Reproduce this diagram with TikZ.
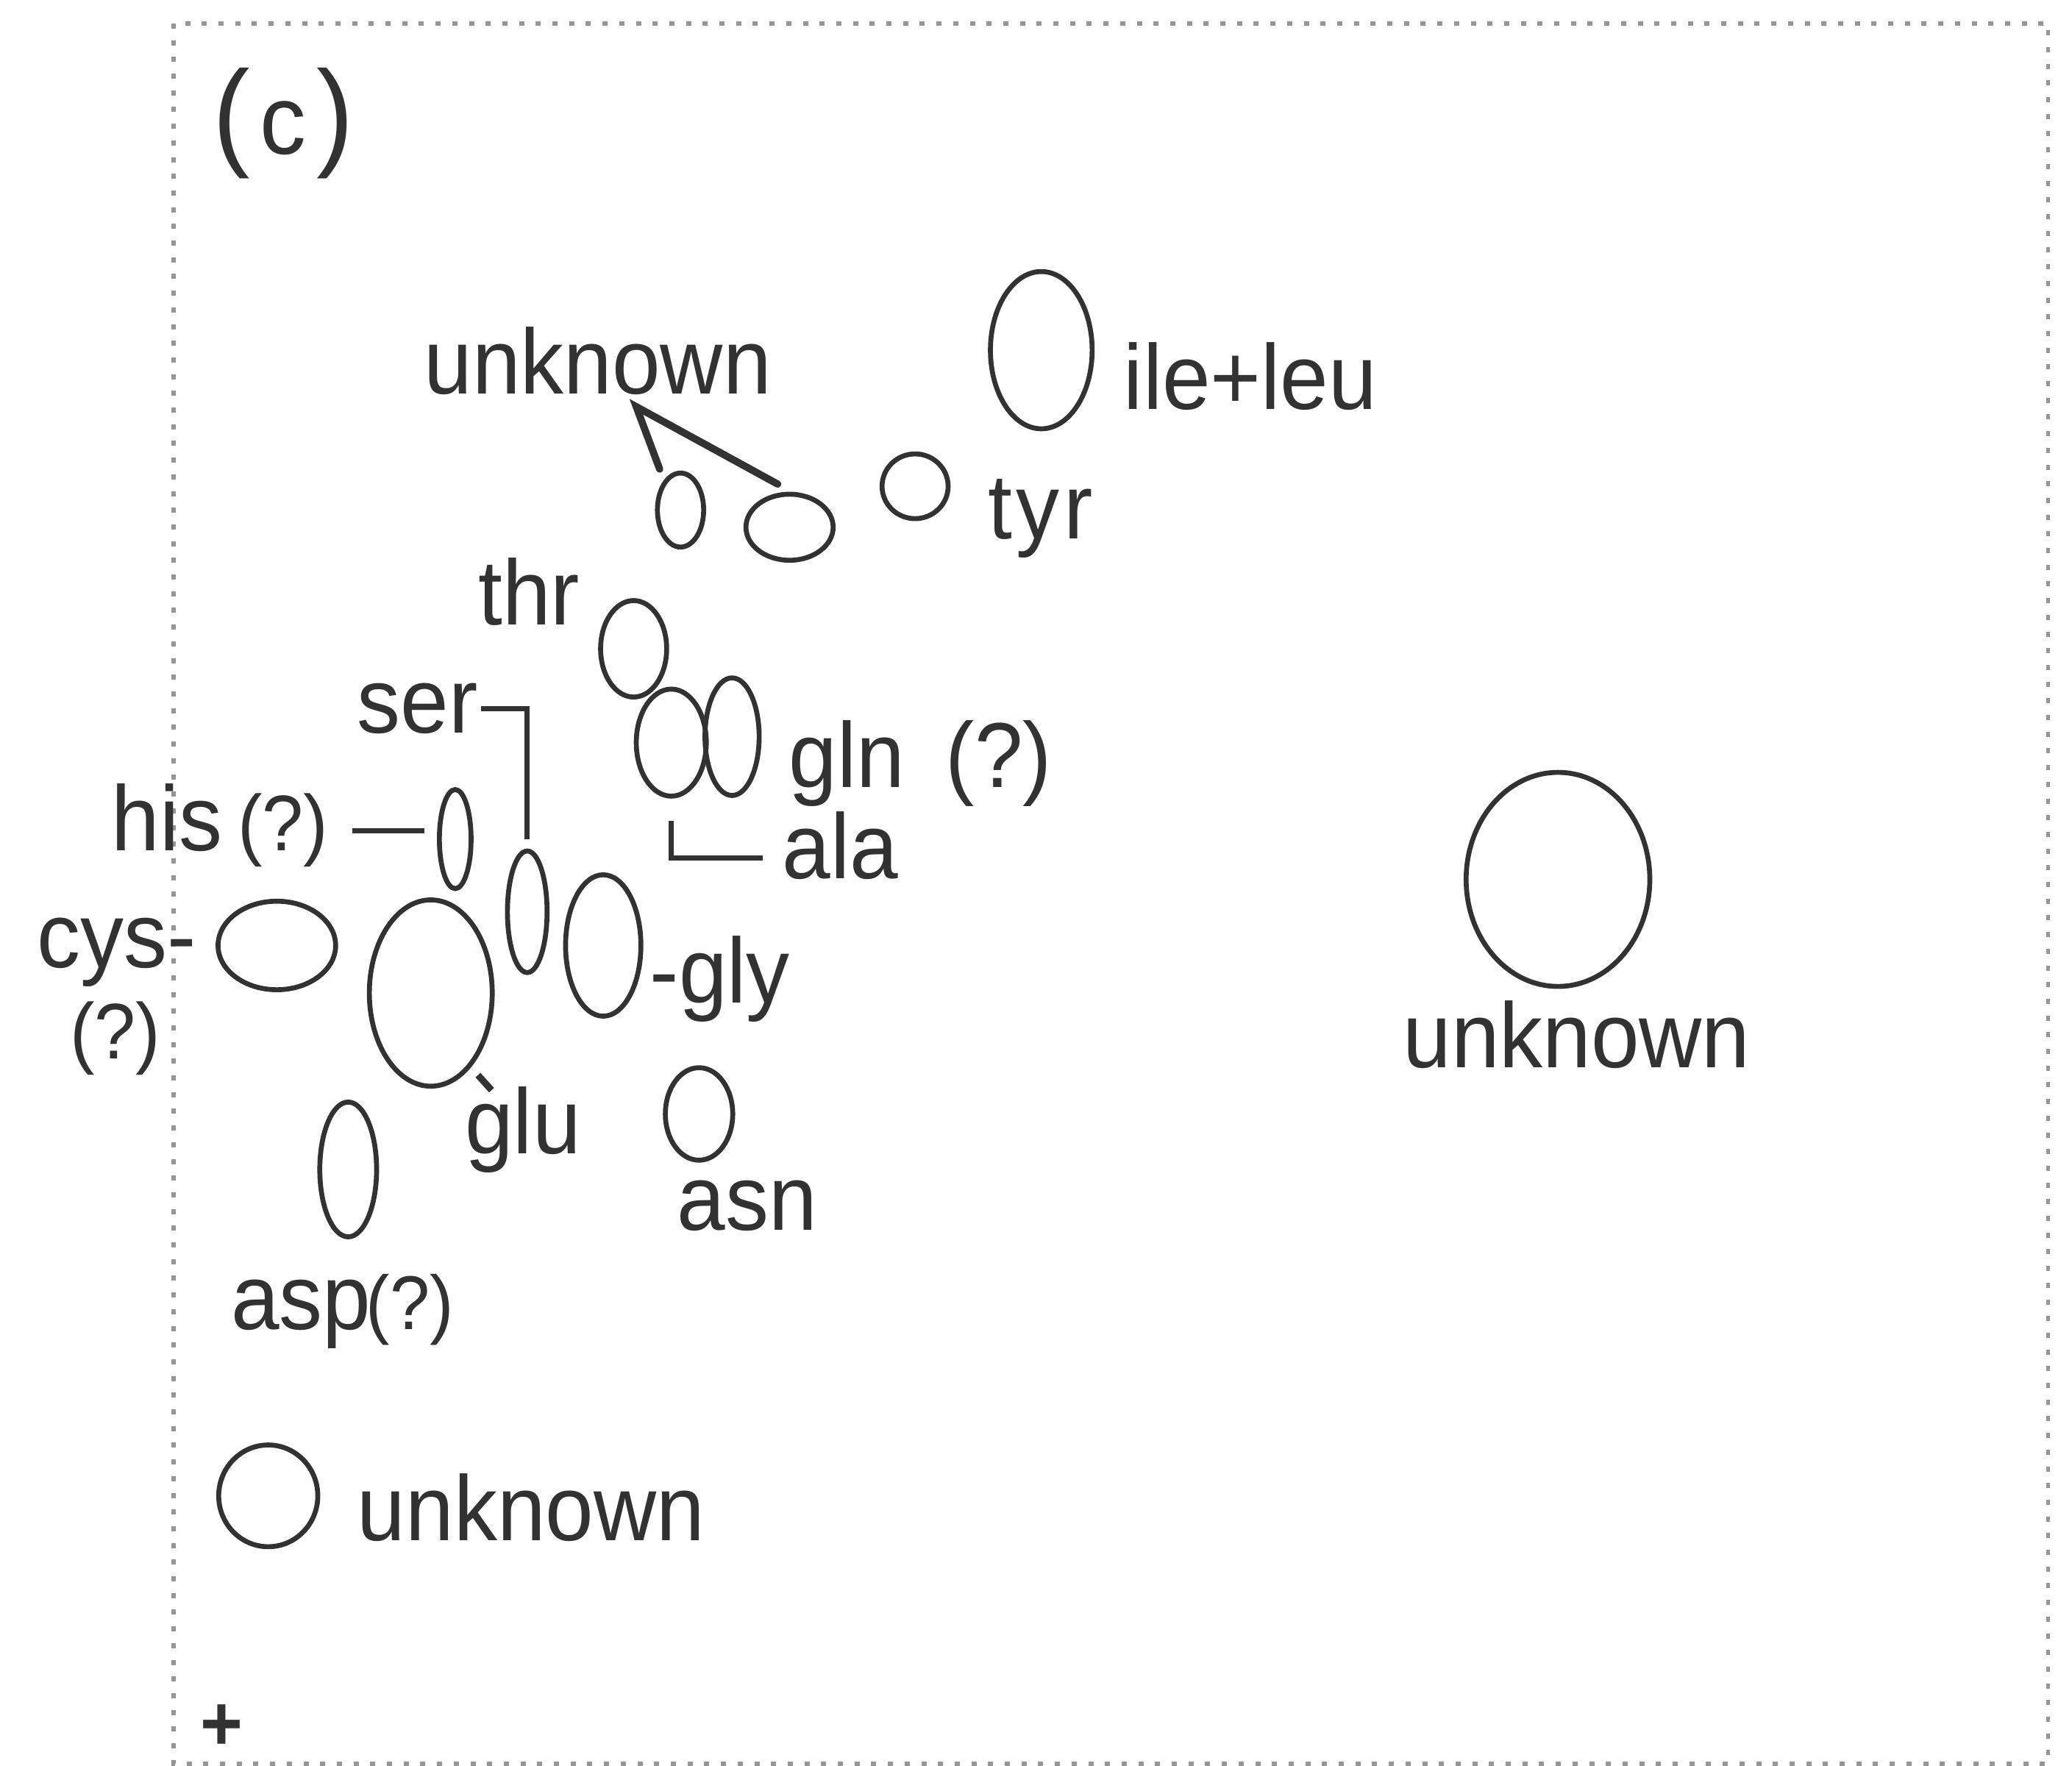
\documentclass[tikz,border=0pt]{standalone}
\usepackage{fontspec}
\setmainfont[FakeStretch=0.94]{Liberation Sans}
\usetikzlibrary{shapes.geometric}
\definecolor{ink}{RGB}{50,50,50}
\definecolor{framegray}{RGB}{150,150,150}
\newcommand{\mainsize}{\fontsize{35.7pt}{40pt}\selectfont}
\newcommand{\smallq}{\fontsize{30.5pt}{34pt}\selectfont}
\newcommand{\aspq}{\fontsize{29.5pt}{32pt}\selectfont}
\newcommand{\bigpar}{\fontsize{46pt}{50pt}\selectfont}
\begin{document}
\begin{tikzpicture}[x=0.17966mm, y=-0.17966mm,
  blob/.style 2 args={draw=ink, line width=1.9pt, ellipse, inner sep=0pt, outer sep=0pt,
    minimum width=#1*0.35932mm, minimum height=#2*0.35932mm},
  lbl/.style={inner sep=0pt, outer sep=0pt, anchor=base west, text=ink, font=\mainsize},
  conn/.style={draw=ink, line width=2pt},
  arrowln/.style={draw=ink, line width=2.8pt, line join=miter, miter limit=20},
  framestyle/.style={draw=framegray, line width=0.55mm, dash pattern=on 0.7mm off 1.57mm}]
\useasboundingbox (0,0) rectangle (1568,1336.4);
\fill[white] (0,0) rectangle (1568,1336.4);
% frame
\draw[framestyle] (131.4,17.8) rectangle (1550,1334.7);

% panel label
\node[lbl] (panel) at (161,116.5) {{\bigpar(}\kern4pt{\fontsize{38pt}{40pt}\selectfont c}\kern4pt{\bigpar)}};

% spots
\node[blob={38.5}{59.5}] (ile) at (788,265) {};
\node[blob={25}{24.5}] (tyr) at (692.5,368) {};
\node[blob={17.5}{28}] (ua) at (515,386) {};
\node[blob={33}{25}] (ub) at (597.5,399) {};
\node[blob={25}{36.5}] (thr) at (479.5,491) {};
\node[blob={26.5}{40.5}] (glnL) at (508,562) {};
\node[blob={20.5}{44.5}] (glnR) at (554,557.5) {};
\node[blob={12}{37.5}] (his) at (344.5,635) {};
\node[blob={15}{46}] (ser) at (399,690) {};
\node[blob={44.5}{33.5}] (cys) at (209.5,715.5) {};
\node[blob={46.5}{70.5}] (glu) at (326,751.5) {};
\node[blob={28.5}{53.5}] (gly) at (456.5,715.5) {};
\node[blob={25.5}{35}] (asn) at (529,843) {};
\node[blob={21.5}{51}] (asp) at (263.5,885) {};
\node[blob={37.5}{38.5}] (unkb) at (203,1132) {};
\node[blob={69.5}{81}] (unkr) at (1179,665.5) {};

% labels
\node[lbl] (tunka) at (321,298) {unknown};
\node[lbl] (tile) at (850.5,310) {ile+leu};
\node[lbl] (ttyr) at (748,408) {t\kern1.5pt y\kern1.5pt r};
\node[lbl] (tthr) at (362,473) {thr};
\node[lbl] (tser) at (270.5,554.7) {ser};
\node[lbl] (tgln) at (597,595.6) {gln\hspace{5.6mm}(?)};
\node[lbl] (tala) at (592,665) {ala};
\node[lbl] (this) at (84.5,644) {his};
\node[lbl, font=\smallq] (thisq) at (180,644) {(?)};
\node[lbl] (tcys) at (28,732) {cys-};
\node[lbl, font=\smallq] (tcysq) at (53,801) {(?)};
\node[lbl] (tgly) at (492,759) {-gly};
\node[lbl] (tglu) at (352,873) {glu};
\node[lbl] (tasn) at (512.6,931) {asn};
\node[lbl] (tasp) at (175,1006) {asp};
\node[lbl, font=\aspq] (taspq) at (277,1006) {(?)};
\node[lbl] (tunkb) at (270.5,1166) {unknown};
\node[lbl] (tunkr) at (1061.7,808) {unknown};
\node[inner sep=0pt, text=ink, font=\fontsize{30pt}{32pt}\selectfont\bfseries] (plus) at (168,1307) {+};

% connectors
\coordinate (tip) at (481.5,307.8);
\draw[arrowln, line cap=round, shorten <=2mm, shorten >=3mm] (ua.120) -- (tip) -- (ub.77);
\draw[conn, shorten <=0.4mm, shorten >=1.6mm] (tser.east) -| (ser.north);
\draw[conn, shorten <=3.2mm, shorten >=2mm] (thisq.east) -- (thisq.east -| his.west);
\coordinate (alak) at (577,649.5);
\draw[conn, shorten <=3.4mm] (glnL.south) |- (alak);
\coordinate (glutick) at (372,825);
\draw[conn, line width=2.6pt, shorten <=1.75mm] (glu.-62.6) -- (glutick);
\end{tikzpicture}
\end{document}
